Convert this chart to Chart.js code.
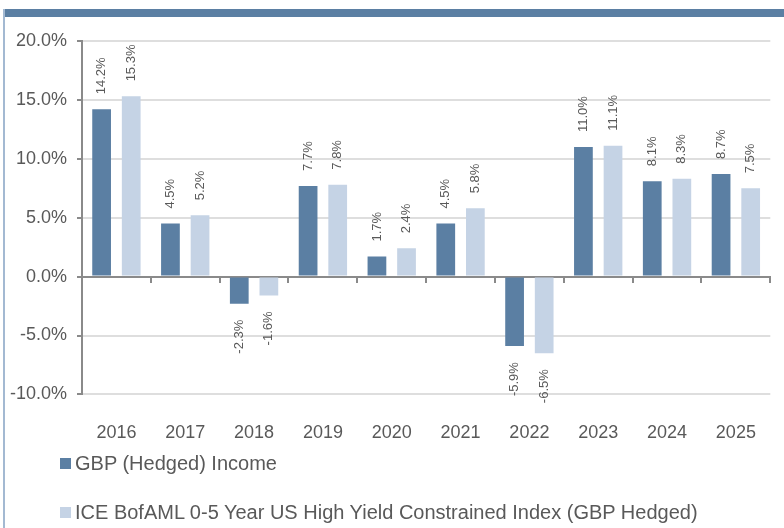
<!DOCTYPE html>
<html>
<head>
<meta charset="utf-8">
<script src="https://cdn.jsdelivr.net/npm/chart.js@4/dist/chart.umd.min.js"></script>
<style>
  body { margin: 0; background: #fff; font-family: "Liberation Sans", Arial, sans-serif; }
  #wrap { position: relative; width: 784px; height: 528px; overflow: hidden; }
  #myChart { position: absolute; left: 0; top: 0; }
  .band { position: absolute; left: 3px; top: 9px; width: 781px; height: 8px; background: #5b7fa3; }
  .edge { position: absolute; left: 3px; top: 9px; width: 2px; height: 519px; background: #a3b9d2; }
  .legend-item { position: absolute; left: 60px; font-size: 20px; color: #595959; white-space: nowrap; line-height: 24px; }
  .legend-item span { display: inline-block; width: 11px; height: 11px; margin-right: 4px; vertical-align: 1px; }
</style>
</head>
<body>
<div id="wrap">
  <canvas id="myChart" width="784" height="528"></canvas>
  <div class="band"></div>
  <div class="edge"></div>
  <div class="legend-item" id="leg0" style="top:451px"></div>
  <div class="legend-item" id="leg1" style="top:500px"></div>
</div>
<script>
const years = ['2016', '2017', '2018', '2019', '2020', '2021', '2022', '2023', '2024', '2025'];
const seriesNames = ['GBP (Hedged) Income', 'ICE BofAML 0-5 Year US High Yield Constrained Index (GBP Hedged)'];
const fundReturns = [14.2, 4.5, -2.3, 7.7, 1.7, 4.5, -5.9, 11.0, 8.1, 8.7];
const indexReturns = [15.3, 5.2, -1.6, 7.8, 2.4, 5.8, -6.5, 11.1, 8.3, 7.5];
const colors = ['#5b7fa3', '#c5d3e5'];

const textGrey = '#595959';
const axisGrey = '#8a8a8a';

// rotated value labels above / below each bar
const barLabels = {
    id: 'barLabels',
    afterDatasetsDraw(chart) {
        const ctx = chart.ctx;
        chart.data.datasets.forEach((ds, i) => {
            chart.getDatasetMeta(i).data.forEach((bar, j) => {
                const v = ds.data[j];
                ctx.save();
                ctx.translate(bar.x, v >= 0 ? bar.y - 15 : bar.y + 16);
                ctx.rotate(-Math.PI / 2);
                ctx.font = '13px "Liberation Sans", Arial, sans-serif';
                ctx.fillStyle = textGrey;
                ctx.textAlign = v >= 0 ? 'left' : 'right';
                ctx.textBaseline = 'middle';
                ctx.fillText(v.toFixed(1) + '%', 0, 0);
                ctx.restore();
            });
        });
    }
};

const ctx = document.getElementById('myChart').getContext('2d');
new Chart(ctx, {
    type: 'bar',
    data: {
        labels: years,
        datasets: [{
            label: seriesNames[0],
            data: fundReturns,
            backgroundColor: colors[0],
            borderWidth: 0
        }, {
            label: seriesNames[1],
            data: indexReturns,
            backgroundColor: colors[1],
            borderWidth: 0
        }]
    },
    options: {
        responsive: false,
        animation: false,
        categoryPercentage: 0.86,
        barPercentage: 0.633,
        layout: {
            padding: { top: 41, right: 2, bottom: 56, left: 0 }
        },
        plugins: {
            legend: { display: false },
            tooltip: { enabled: false }
        },
        scales: {
            x: {
                offset: true,
                grid: { display: false, drawTicks: false },
                border: { display: false },
                ticks: {
                    padding: 28,
                    color: textGrey,
                    font: { family: '"Liberation Sans", Arial, sans-serif', size: 18 }
                }
            },
            x0: {
                type: 'category',
                position: { y: 0 },
                offset: true,
                grid: {
                    offset: true,
                    drawOnChartArea: false,
                    tickLength: 5,
                    color: axisGrey,
                    lineWidth: 2
                },
                border: { color: axisGrey, width: 2 },
                ticks: { display: false }
            },
            y: {
                min: -10,
                max: 20,
                afterFit(scale) { scale.width = 82; },
                ticks: {
                    stepSize: 5,
                    padding: 10,
                    color: textGrey,
                    font: { family: '"Liberation Sans", Arial, sans-serif', size: 18 },
                    callback: v => v.toFixed(1) + '%'
                },
                grid: {
                    color: c => c.tick && c.tick.value === 0 ? axisGrey : '#dedede',
                    lineWidth: 2,
                    tickLength: 5,
                    tickColor: axisGrey
                },
                border: { color: axisGrey, width: 2 }
            }
        }
    },
    plugins: [barLabels]
});

seriesNames.forEach((name, i) => {
    const el = document.getElementById('leg' + i);
    el.innerHTML = '<span style="background:' + colors[i] + '"></span>';
    el.appendChild(document.createTextNode(name));
});
</script>
</body>
</html>
